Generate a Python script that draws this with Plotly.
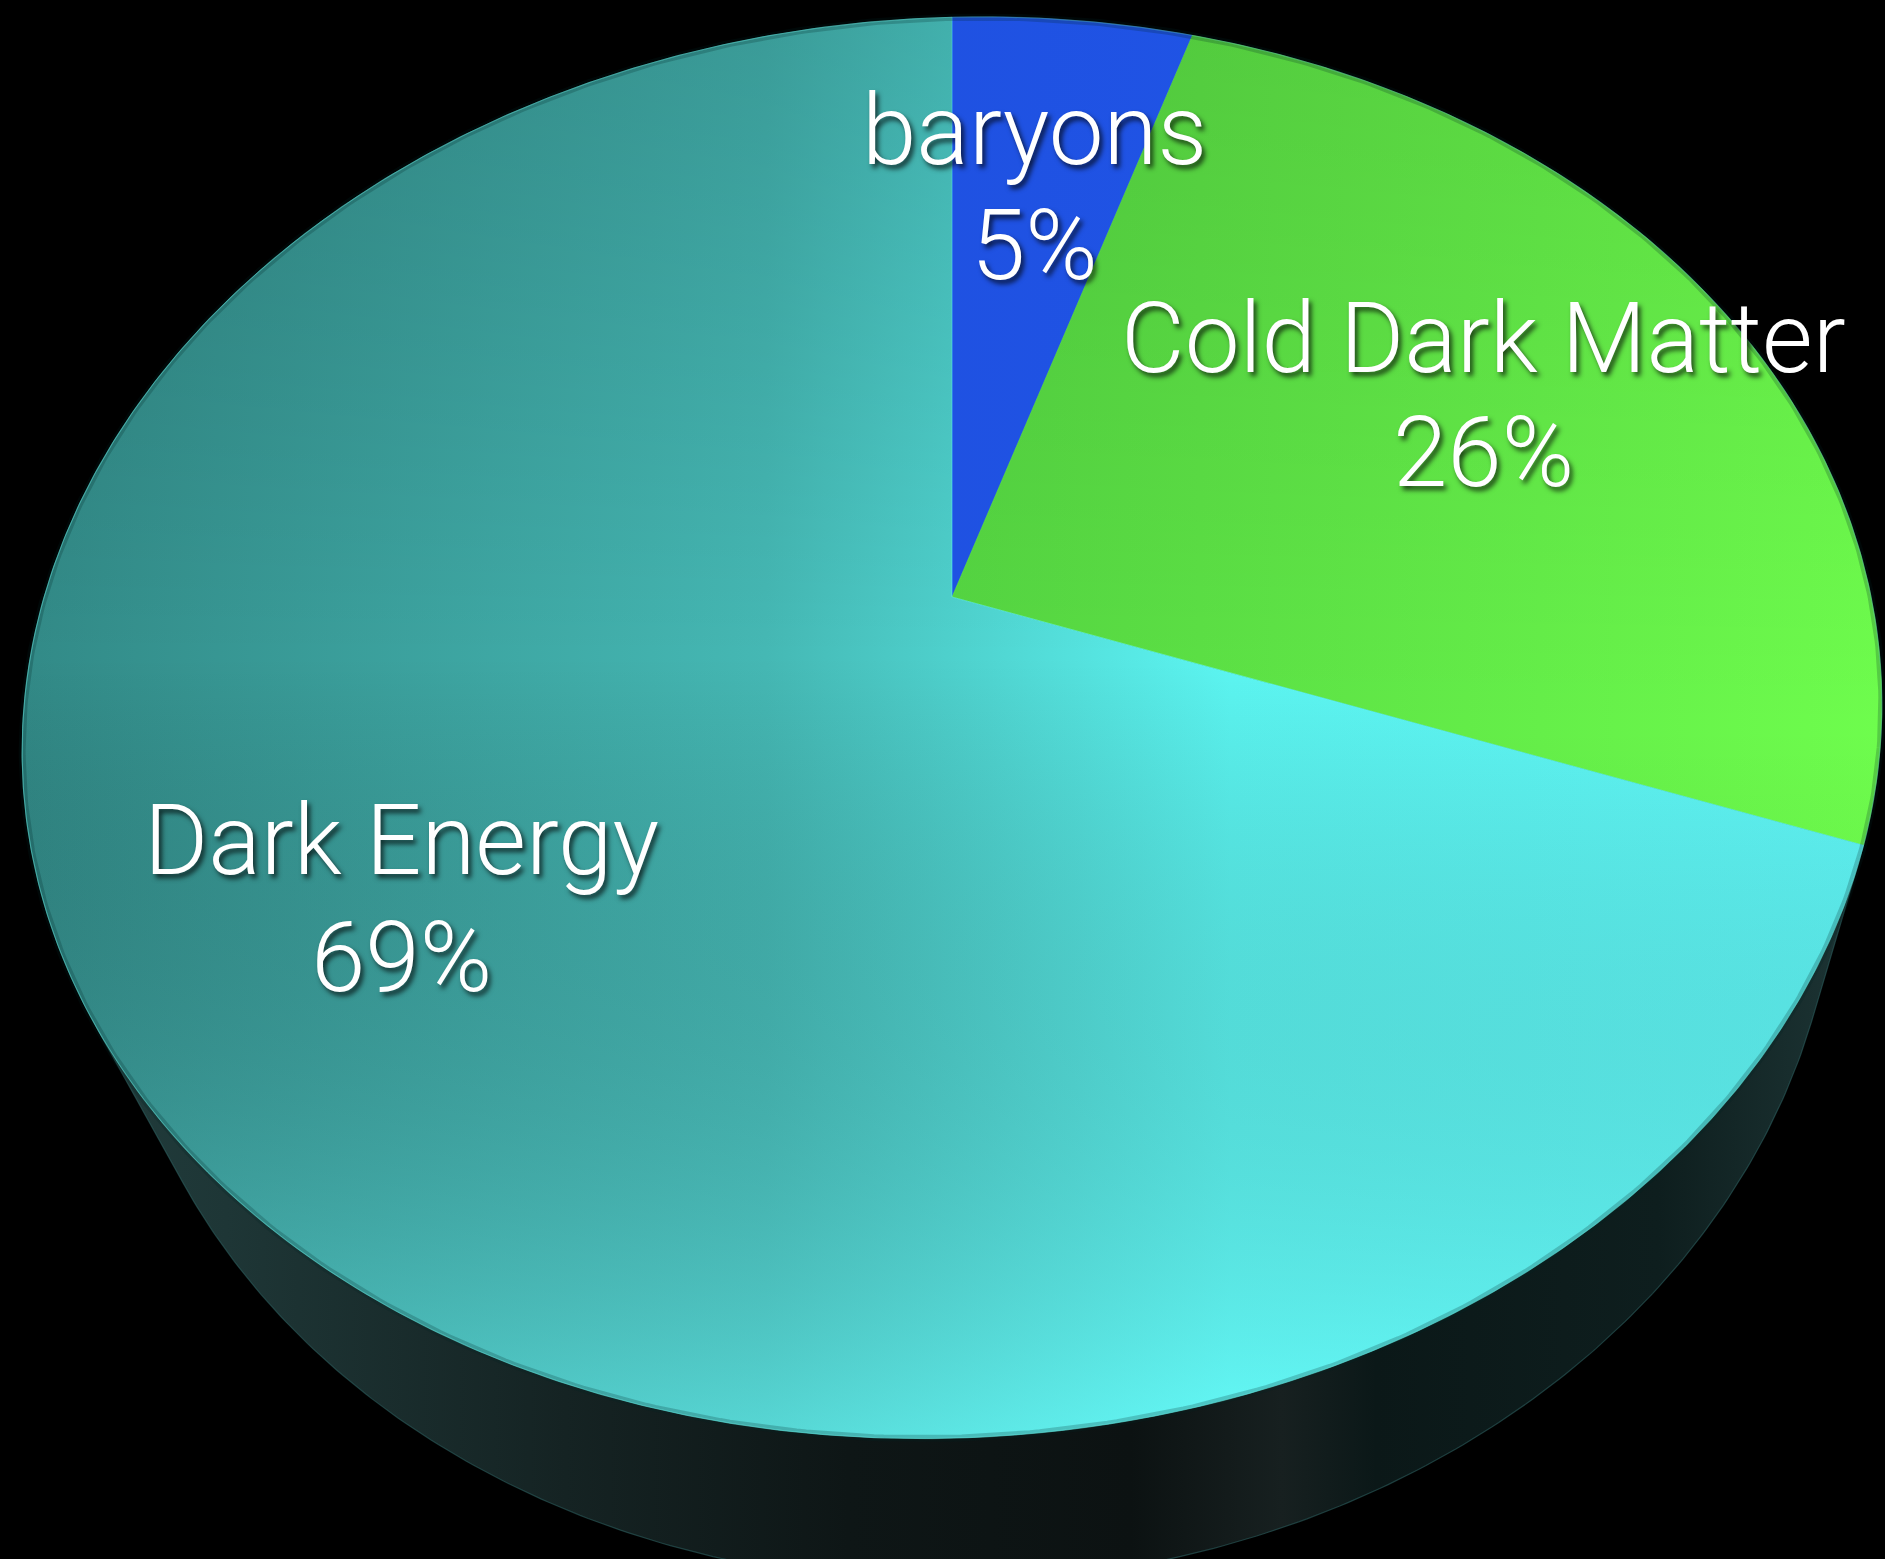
import numpy as np
import plotly.graph_objects as go

# ---------------- data ----------------
labels = ["baryons", "Cold Dark Matter", "Dark Energy"]
shares = [5, 26, 69]
pct_labels = ["5%", "26%", "69%"]

# slice styling (horizontal gradients, left -> right)
slice_grad = {
    "baryons": [[0, "#1d4bd8"], [1, "#2158ec"]],
    "Cold Dark Matter": [[0, "#45bc36"], [0.45, "#53d341"], [1, "#6efd4d"]],
    "Dark Energy": [[0, "#328a87"], [0.4, "#45b8b4"], [0.65, "#5cf6f2"], [1, "#63ffff"]],
}
slice_vshade = {
    "baryons": [[0, "rgba(0,0,0,0)"], [1, "rgba(0,0,0,0)"]],
    "Cold Dark Matter": [[0, "rgba(0,0,0,0.10)"], [0.5, "rgba(0,0,0,0)"], [1, "rgba(120,255,80,0.15)"]],
    "Dark Energy": [[0, "rgba(0,0,0,0.16)"], [0.45, "rgba(0,0,0,0.0)"], [1, "rgba(110,255,255,0.45)"]],
}

# ---------------- geometry (perspective view of a disc) ----------------
W, H = 1885, 1559
CX, CY = 952.0, 597.0        # screen position of pie centre
A = 914.0                    # horizontal scale (px for unit radius)
SIN_T = 0.751                # tilt
COS_T = np.sqrt(1 - SIN_T ** 2)
K = 0.184                    # perspective strength
D = COS_T / K
F = A * D
SHEAR = 0.025                # slight roll of the view
# bottom rim of the disc (relative to the top rim)
BOT_SX, BOT_SHIFT, BOT_DROP = 0.93, 20.0, 145.0


def project(X, Z):
    zc = D + Z * COS_T
    return F * X / zc, -F * Z * SIN_T / zc   # offsets from centre (y down)


def to_screen(dx, dy):
    return CX + dx, CY + dy - SHEAR * dx


def hull(points):
    pts = sorted(set(points))
    def cross(o, a, b):
        return (a[0] - o[0]) * (b[1] - o[1]) - (a[1] - o[1]) * (b[0] - o[0])
    lower, upper = [], []
    for p in pts:
        while len(lower) >= 2 and cross(lower[-2], lower[-1], p) <= 0:
            lower.pop()
        lower.append(p)
    for p in reversed(pts):
        while len(upper) >= 2 and cross(upper[-2], upper[-1], p) <= 0:
            upper.pop()
        upper.append(p)
    return lower[:-1] + upper[:-1]


fig = go.Figure()

# side wall
th = np.linspace(0, 2 * np.pi, 720, endpoint=False)
dxt, dyt = project(np.sin(th), np.cos(th))
tx, ty = to_screen(dxt, dyt)
bx, by = to_screen(BOT_SX * dxt + BOT_SHIFT, dyt + BOT_DROP)
pts = [(round(a, 2), round(b, 2)) for a, b in zip(np.r_[tx, bx], np.r_[ty, by])]
hp = hull(pts)
hx = [p[0] for p in hp] + [hp[0][0]]
hy = [p[1] for p in hp] + [hp[0][1]]
fig.add_trace(go.Scatter(
    x=hx, y=hy, mode="lines", fill="toself",
    line=dict(color="rgba(45,95,95,0.6)", width=1.2),
    fillgradient=dict(type="horizontal", start=0, stop=W, colorscale=[
        [0.0, "#22403f"], [0.12, "#1e3636"], [0.3, "#152323"], [0.45, "#0e1616"],
        [0.6, "#0c1212"], [0.68, "#172020"], [0.73, "#0b1818"], [0.88, "#0e1e1e"],
        [1.0, "#1f3838"]]),
    hoverinfo="skip", showlegend=False))

# top face slices
total = float(sum(shares))
start = 0.0
for lab, val in zip(labels, shares):
    a0 = start / total * 2 * np.pi
    a1 = (start + val) / total * 2 * np.pi
    start += val
    n = max(40, int(val * 12))
    t = np.linspace(a0, a1, n)
    ax_, ay_ = to_screen(*project(np.sin(t), np.cos(t)))
    xs = np.r_[CX, ax_, CX]
    ys = np.r_[CY, ay_, CY]
    fig.add_trace(go.Scatter(
        x=xs, y=ys, mode="lines", fill="toself",
        line=dict(width=0.5, color=slice_grad[lab][-1][1]),
        fillgradient=dict(type="horizontal", start=float(tx.min()), stop=float(tx.max()),
                          colorscale=slice_grad[lab]),
        hoverinfo="skip", showlegend=False))
    fig.add_trace(go.Scatter(
        x=xs, y=ys, mode="none", fill="toself",
        fillgradient=dict(type="vertical", start=float(ty.min()), stop=float(ty.max()),
                          colorscale=slice_vshade[lab]),
        hoverinfo="skip", showlegend=False))

# bevelled rim along the outer edge
fig.add_trace(go.Scatter(
    x=np.r_[tx, tx[0]], y=np.r_[ty, ty[0]], mode="lines",
    line=dict(color="rgba(0,35,35,0.22)", width=7),
    hoverinfo="skip", showlegend=False))
fig.add_trace(go.Scatter(
    x=np.r_[tx, tx[0]], y=np.r_[ty, ty[0]], mode="lines",
    line=dict(color="rgba(120,255,240,0.25)", width=1.2),
    hoverinfo="skip", showlegend=False))

# ---------------- labels ----------------
FONT = dict(family="Roboto, 'Helvetica Neue', Arial, sans-serif", size=98, color="white",
            weight=300, shadow="3px 4px 5px rgba(0,0,0,0.7)")
label_pos = {  # (centre x, baseline of name line, baseline of percent line)
    "baryons": (1034, 165, 280),
    "Cold Dark Matter": (1483, 373, 487),
    "Dark Energy": (401, 875, 992),
}
for lab, pct in zip(labels, pct_labels):
    x, b1, b2 = label_pos[lab]
    for txt, base in ((lab, b1), (pct, b2)):
        fig.add_annotation(x=x, y=base - 35, text=txt, showarrow=False,
                           xanchor="center", yanchor="middle", font=FONT)

fig.update_layout(
    width=W, height=H, margin=dict(l=0, r=0, t=0, b=0),
    paper_bgcolor="black", plot_bgcolor="black",
    xaxis=dict(range=[0, W], visible=False, fixedrange=True),
    yaxis=dict(range=[H, 0], visible=False, fixedrange=True),
    showlegend=False,
)
fig.write_html("out.html")
